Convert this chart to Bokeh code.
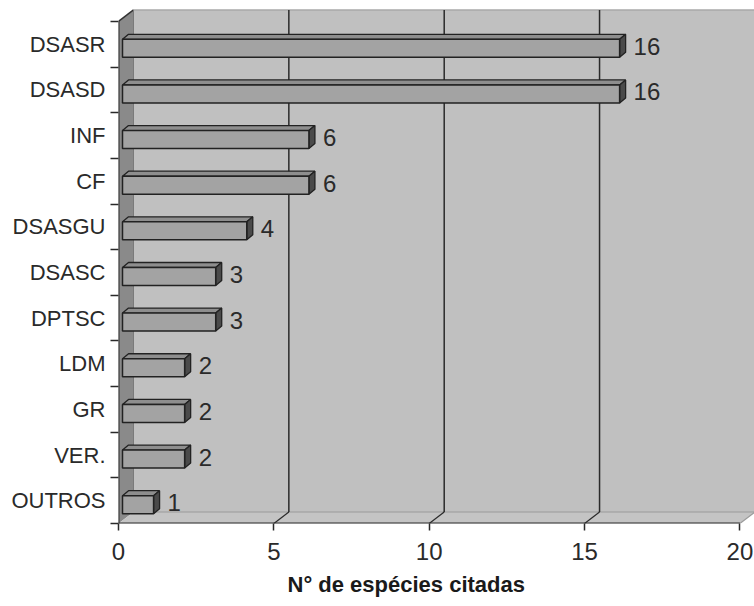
from bokeh.plotting import figure
from bokeh.models import Range1d, FixedTicker, Title, ColumnDataSource
from bokeh.core.properties import value
from bokeh.embed import file_html
from bokeh.resources import INLINE

# ---- data (top to bottom as shown) ----
categories = ["DSASR", "DSASD", "INF", "CF", "DSASGU", "DSASC", "DPTSC", "LDM", "GR", "VER.", "OUTROS"]
counts = [16, 16, 6, 6, 4, 3, 3, 2, 2, 2, 1]
x_ticks = [0, 5, 10, 15, 20]
x_title = "N° de espécies citadas"

FONT = "Liberation Sans"
n = len(categories)

# pixel scale of the frame (used to express 3D depth offsets)
PX_X = 31.07
PX_Y = 45.64
X_END = (754 - 118) / PX_X
Y_END = (523 - 8) / PX_Y

DXW, DYW = 15 / PX_X, 11.5 / PX_Y           # wall depth
BX0 = 4 / PX_X                               # bar front offset
BYS = -4 / PX_Y                              # bar vertical shift
BHH = 9 / PX_Y                               # half height of bar front
BDX, BDY = 6 / PX_X, 5 / PX_Y                # bar depth

p = figure(width=754, height=606, output_backend="svg", toolbar_location=None,
           x_range=Range1d(0, X_END), y_range=Range1d(0, Y_END),
           min_border_left=118, min_border_right=0, min_border_top=8, min_border_bottom=83,
           title=None)
p.outline_line_color = None
p.background_fill_color = "white"
p.border_fill_color = "white"
p.xgrid.visible = False
p.ygrid.visible = False

xmax = x_ticks[-1]
# back wall
p.quad(left=[DXW], right=[xmax + DXW], bottom=[DYW], top=[n + DYW],
       fill_color="#c0c0c0", line_color=None)
# left side wall
p.patch([0, DXW, DXW, 0], [0, DYW, n + DYW, n], fill_color="#8a8a8a", line_color=None)
# floor
p.patch([0, xmax, xmax + DXW, DXW], [0, 0, DYW, DYW], fill_color="#c4c4c4", line_color=None)
# wall edges
p.line([DXW, xmax + DXW], [n + DYW, n + DYW], line_color="#a8a8a8", line_width=1.5)
p.line([0, DXW], [n, n + DYW], line_color="#333333", line_width=1.5)
p.line([DXW, xmax + DXW], [DYW, DYW], line_color="#9a9a9a", line_width=1)
p.line([DXW, DXW], [DYW, n + DYW], line_color="#7a7a7a", line_width=1)

# gridlines on back wall and floor diagonals
gx = x_ticks[1:-1]
p.segment(x0=[g + DXW for g in gx], y0=[DYW] * len(gx), x1=[g + DXW for g in gx], y1=[n + DYW] * len(gx),
          line_color="#2a2a2a", line_width=1.5)
p.segment(x0=gx, y0=[0] * len(gx), x1=[g + DXW for g in gx], y1=[DYW] * len(gx),
          line_color="#2a2a2a", line_width=1.2)
p.segment(x0=[xmax], y0=[0], x1=[xmax + DXW], y1=[DYW], line_color="#9a9a9a", line_width=1.2)

# axis lines
p.segment(x0=[0], y0=[0], x1=[xmax], y1=[0], line_color="#2a2a2a", line_width=2)
p.segment(x0=[0], y0=[0], x1=[0], y1=[n], line_color="#2a2a2a", line_width=2)

# ---- bars ----
yc = [n - i - 0.5 + BYS for i in range(n)]
left = [BX0] * n
right = [BX0 + v for v in counts]
bot = [c - BHH for c in yc]
top = [c + BHH for c in yc]

top_xs = [[l, r, r + BDX, l + BDX] for l, r in zip(left, right)]
top_ys = [[t, t, t + BDY, t + BDY] for t in top]
side_xs = [[r, r + BDX, r + BDX, r] for r in right]
side_ys = [[b, b + BDY, t + BDY, t] for b, t in zip(bot, top)]

p.patches(top_xs, top_ys, fill_color="#8e8e8e", line_color="#222222", line_width=1.3)
p.patches(side_xs, side_ys, fill_color="#4a4a4a", line_color="#222222", line_width=1.3)
p.quad(left=left, right=right, bottom=bot, top=top,
       fill_color="#a3a3a3", line_color="#222222", line_width=1.5)

# value labels
src = ColumnDataSource(dict(x=[r + BDX + 8 / PX_X for r in right], y=[c + 2 / PX_Y for c in yc],
                            t=[str(v) for v in counts]))
p.text(x="x", y="y", text="t", source=src, text_font=value(FONT), text_font_size="24px",
       text_color="#2a2a2a", text_align="left", text_baseline="middle")

# ---- axes ----
xa = p.xaxis[0]
xa.ticker = FixedTicker(ticks=x_ticks)
xa.axis_line_color = None
xa.major_tick_out = 7
xa.major_tick_in = 0
xa.major_tick_line_color = "#2a2a2a"
xa.major_tick_line_width = 1.5
xa.minor_tick_line_color = None
xa.major_label_text_font = FONT
xa.major_label_text_font_size = "24px"
xa.major_label_text_color = "#2a2a2a"
xa.major_label_standoff = 12

ya = p.yaxis[0]
ya.ticker = FixedTicker(ticks=[n - i - 0.5 for i in range(n)], minor_ticks=list(range(n + 1)))
ya.major_label_overrides = {n - i - 0.5: c for i, c in enumerate(categories)}
ya.axis_line_color = None
ya.major_tick_line_color = None
ya.major_tick_out = 8
ya.major_tick_in = 0
ya.minor_tick_out = 8
ya.minor_tick_in = 0
ya.minor_tick_line_color = "#2a2a2a"
ya.minor_tick_line_width = 1.5
ya.major_label_text_font = FONT
ya.major_label_text_font_size = "22px"
ya.major_label_text_color = "#2a2a2a"
ya.major_label_standoff = 5

p.add_layout(Title(text=x_title, align="left", offset=169, standoff=15, vertical_align="bottom",
                   text_font=FONT, text_font_size="22px", text_font_style="bold",
                   text_color="#1a1a1a"), "below")

open("out.html", "w").write(file_html(p, INLINE))
